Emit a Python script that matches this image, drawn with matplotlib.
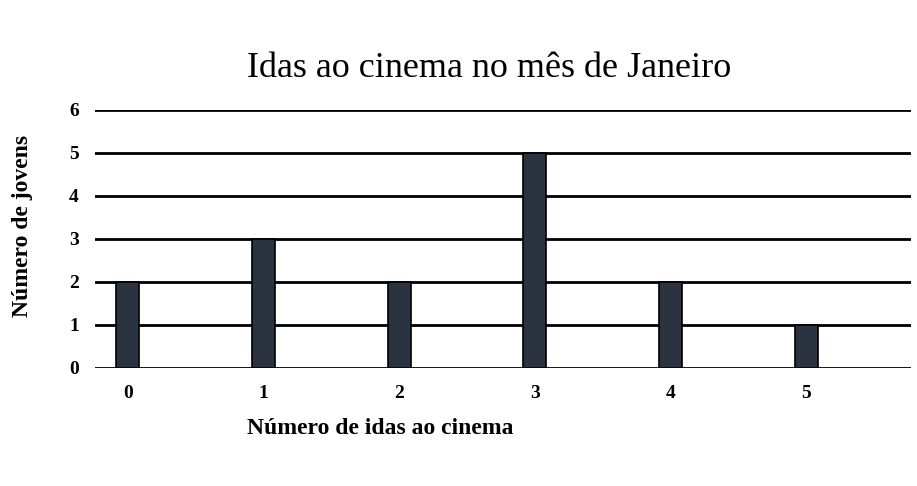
import matplotlib.pyplot as plt

idas = [0, 1, 2, 3, 4, 5]
jovens = [2, 3, 2, 5, 2, 1]
yticks = [0, 1, 2, 3, 4, 5, 6]

plt.rcParams['font.family'] = ['Liberation Serif', 'DejaVu Serif']

fig = plt.figure(figsize=(9.17, 4.86), dpi=100)
ax = fig.add_axes([0.104, 0.243, 0.889, 0.531])

for y in yticks:
    ax.axhline(y, color='black', lw=2, zorder=1)
ax.bar(idas, jovens, width=0.17, color='#2b3340', edgecolor='black', lw=1.2, zorder=2)

ax.set_xlim(-0.24, 5.77)
ax.set_ylim(0, 6)
ax.set_yticks(yticks)
ax.set_xticks(idas)
ax.tick_params(length=0, labelsize=14, pad=12)
for lab in ax.get_xticklabels() + ax.get_yticklabels():
    lab.set_fontweight('bold')
for s in ax.spines.values():
    s.set_visible(False)

fig.text(0.533, 0.86, 'Idas ao cinema no mês de Janeiro', ha='center', va='center', fontsize=26)
fig.text(0.415, 0.118, 'Número de idas ao cinema', ha='center', va='center', fontsize=17, fontweight='bold')
fig.text(0.025, 0.535, 'Número de jovens', ha='center', va='center', rotation=90, fontsize=17, fontweight='bold')

fig.savefig('out.png', dpi=100)
